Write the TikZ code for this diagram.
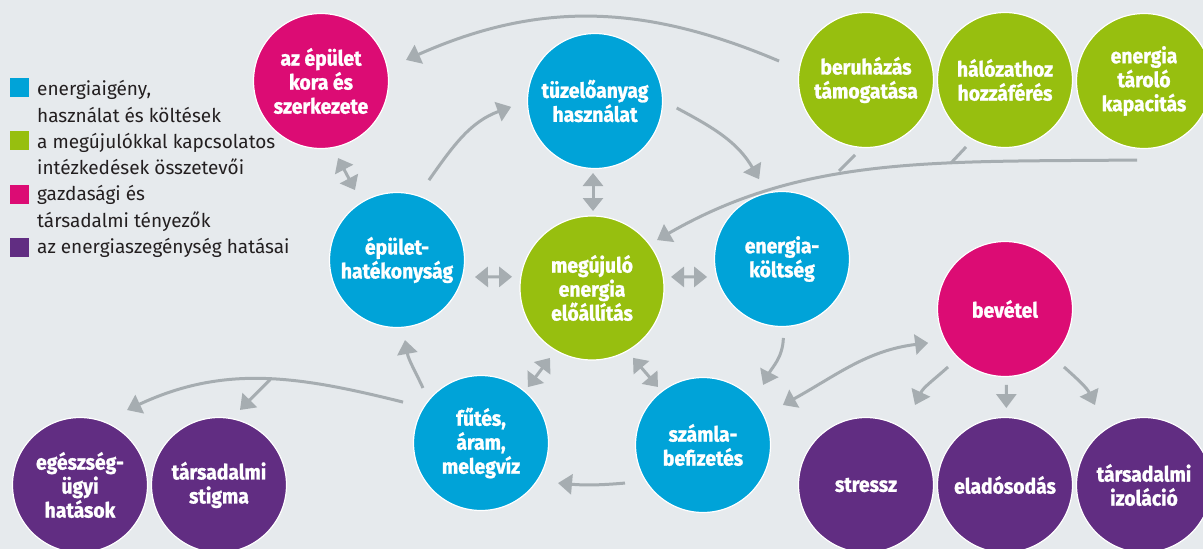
\documentclass[tikz,border=0pt]{standalone}
\usepackage{fontspec}
\setmainfont{Fira Sans}
\newfontfamily\circfont{Fira Sans}[BoldFeatures={FakeBold=1.2,FakeStretch=0.92}]
\usetikzlibrary{arrows.meta,calc}
\definecolor{cblue}{HTML}{00A3D8}
\definecolor{cgreen}{HTML}{97BF0F}
\definecolor{cmag}{HTML}{DC0C74}
\definecolor{cpurp}{HTML}{612D82}
\definecolor{cbg}{HTML}{E6EAED}
\definecolor{cgray}{HTML}{A6ADB1}
\definecolor{ctext}{HTML}{231F20}
\tikzset{
  circ/.style={circle, draw=white, line width=1.2pt, minimum size=135pt, inner sep=0pt,
    text=white, font=\circfont\fontsize{21}{24}\selectfont\bfseries, align=center},
  bluec/.style={circ, fill=cblue},
  greenc/.style={circ, fill=cgreen},
  magc/.style={circ, fill=cmag},
  purpc/.style={circ, fill=cpurp},
  sq/.style={rectangle, minimum size=19pt, inner sep=0pt},
  leg/.style={anchor=base west, inner sep=0pt, text=ctext, font=\fontsize{19}{26}\selectfont},
  arr/.style={draw=cgray, line width=3pt, -{Triangle[length=14pt,width=20pt]}},
  dbl/.style={draw=cgray, line width=3pt, {Triangle[length=13pt,width=20pt]}-{Triangle[length=13pt,width=20pt]}},
  ln/.style={draw=cgray, line width=3pt},
}
\begin{document}
\begin{tikzpicture}[x=1pt,y=1pt]
\useasboundingbox (0,0) rectangle (1203,-549);
\fill[cbg] (0,0) rectangle (1203,-549);
\clip (0,0) rectangle (1203,-549);

% legend
\node[sq, fill=cblue]  (s1) at (19.5,-87.5) {};
\node[sq, fill=cgreen] (s2) at (19.5,-140.5) {};
\node[sq, fill=cmag]   (s3) at (19.5,-194) {};
\node[sq, fill=cpurp]  (s4) at (19.5,-247.5) {};
\node[leg] (t1a) at (37,-95) {energiaigény,};
\node[leg] (t1b) at (37,-122) {használat és költések};
\node[leg] (t2a) at (37,-148) {a megújulókkal kapcsolatos};
\node[leg] (t2b) at (37,-174) {intézkedések összetevői};
\node[leg] (t3a) at (37,-200.5) {gazdasági és};
\node[leg] (t3b) at (37,-227) {társadalmi tényezők};
\node[leg] (t4a) at (37,-253.5) {az energiaszegénység hatásai};

% circles
\node[magc]  (kora)   at (321,-81)  {az épület\\kora és\\szerkezete};
\node[bluec] (tuz)    at (595,-101) {tüzelőanyag\\használat};
\node[greenc, minimum size=144pt] (meg) at (592,-288) {megújuló\\energia\\előállítás};
\node[bluec] (hat)    at (397,-260) {épület-\\hatékonyság};
\node[bluec] (kolt)   at (782,-259) {energia-\\költség};
\node[bluec] (fut)    at (481,-443) {fűtés,\\áram,\\melegvíz};
\node[bluec] (szamla) at (703,-445) {számla-\\befizetés};
\node[greenc] (ber)   at (866,-80)  {beruházás\\támogatása};
\node[greenc] (hal)   at (1005,-80) {hálózathoz\\hozzáférés};
\node[greenc] (tar)   at (1144,-81) {energia\\tároló\\kapacitás};
\node[magc]  (bev)    at (1005,-309) {bevétel};
\node[purpc] (stressz) at (866,-485) {stressz};
\node[purpc] (elad)   at (1005,-485) {eladósodás};
\node[purpc] (izol)   at (1144,-485) {társadalmi\\izoláció};
\node[purpc] (egesz)  at (80,-485)  {egészség-\\ügyi\\hatások};
\node[purpc] (stigma) at (219,-485) {társadalmi\\stigma};

% connectors
\draw[arr] ($(ber)+(167.7:89)$) to[out=157,in=24] ($(kora)+(13.9:87.6)$);
\draw[dbl] ($(kora)+(-77.5:78.9)$) -- ($(hat)+(121:81.6)$);
\draw[arr] ($(hat)+(68.2:86)$) to[out=55,in=200] ($(tuz)+(184:84)$);
\draw[arr] ($(tuz)+(-4.9:82)$) to[out=-28,in=120] ($(kolt)+(106:83)$);
\draw[dbl] ($(tuz)+(-2,-72)$) -- ($(meg)+(1,77)$);
\draw[dbl] ($(hat)+(-12.3:79.8)$) -- ($(meg)+(172:80.7)$);
\draw[dbl] ($(meg)+(8:79.8)$) -- ($(kolt)+(193.5:77)$);
\draw[arr] ($(tar)+(265:79.3)$) .. controls +(180.6:200) and +(30:170) .. ($(meg)+(36.4:80.8)$);
\draw[ln] ($(ber)+(261.7:75.8)$) -- ++(-16,-16);
\draw[ln] ($(hal)+(239.8:77.5)$) -- ++(-15,-16);
\draw[arr] ($(fut)+(136.5:80)$) to[out=115,in=-80] ($(hat)+(-84.3:80.4)$);
\draw[dbl] ($(fut)+(50:73)$) -- ($(meg)+(239:81.6)$);
\draw[dbl] ($(meg)+(-59.6:81)$) -- ($(szamla)+(127.8:73.4)$);
\draw[arr] ($(kolt)+(-89:79)$) to[out=-92,in=63] ($(szamla)+(45:85)$);
\draw[dbl] ($(szamla)+(26.6:89.4)$) to[out=29,in=187] ($(bev)+(203.8:84)$);
\draw[arr] ($(szamla)+(206:86.8)$) to[out=185,in=-5] ($(fut)+(-27.5:86.8)$);
\draw[arr] ($(bev)+(225.5:81.3)$) to[out=222,in=65] ($(stressz)+(58.5:93.8)$);
\draw[arr] ($(bev)+(-89:76)$) -- ($(elad)+(89:77)$);
\draw[arr] ($(bev)+(-44.5:82.7)$) to[out=-42,in=115] ($(izol)+(121.5:93.8)$);
\draw[arr] ($(fut)+(152.3:88)$) to[out=166,in=25] coordinate[pos=0.47] (br) ($(egesz)+(57.9:88.5)$);
\draw[arr] (br) -- ($(stigma)+(74.4:77.9)$);
\end{tikzpicture}
\end{document}
